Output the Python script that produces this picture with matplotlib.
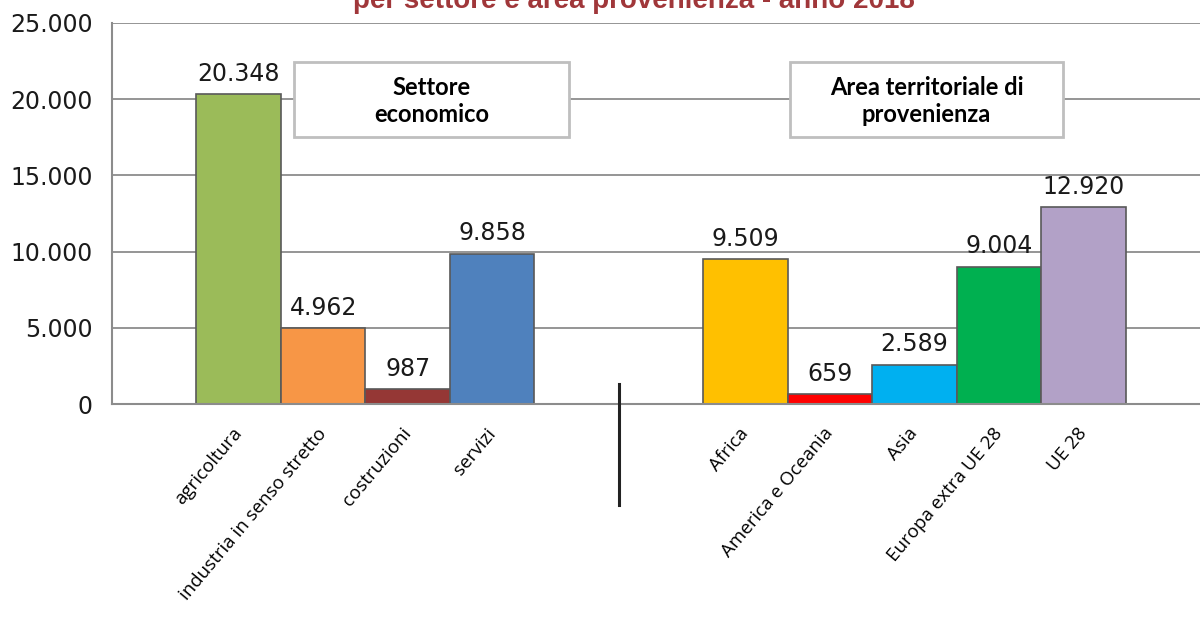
import matplotlib.pyplot as plt
from matplotlib.patches import Rectangle

# data
settori = ["agricoltura", "industria in senso stretto", "costruzioni", "servizi"]
settori_val = [20348, 4962, 987, 9858]
settori_col = ["#9BBB59", "#F79646", "#953735", "#4F81BD"]

aree = ["Africa", "America e Oceania", "Asia", "Europa extra UE 28", "UE 28"]
aree_val = [9509, 659, 2589, 9004, 12920]
aree_col = ["#FFC000", "#FF0000", "#00B0F0", "#00B050", "#B2A1C7"]

yticks = [0, 5000, 10000, 15000, 20000, 25000]
ytick_labels = ["0", "5.000", "10.000", "15.000", "20.000", "25.000"]

# slot positions (empty slots between the two groups)
x_settori = [1, 2, 3, 4]
x_aree = [7, 8, 9, 10, 11]

fig = plt.figure(figsize=(12, 6.21), dpi=100)
ax = fig.add_axes([112 / 1200, 1 - 404 / 621, 1098 / 1200, 381 / 621])

ax.set_axisbelow(True)
for y in yticks[1:]:
    ax.axhline(y, color="#8c8c8c", lw=1.3, zorder=0)

ax.bar(x_settori, settori_val, width=1.0, color=settori_col, edgecolor="#595959", lw=1.2, zorder=2)
ax.bar(x_aree, aree_val, width=1.0, color=aree_col, edgecolor="#595959", lw=1.2, zorder=2)

def fmt(v):
    return f"{v:,}".replace(",", ".")

for x, v in zip(x_settori + x_aree, settori_val + aree_val):
    ax.annotate(fmt(v), (x, v), xytext=(0, 6), textcoords="offset points",
                ha="center", va="bottom", fontsize=17, family="DejaVu Sans", color="#1a1a1a")

ax.set_xlim(-0.5, 12.5)
ax.set_ylim(0, 25000)
ax.set_yticks(yticks)
ax.set_yticklabels(ytick_labels, fontsize=17, family="DejaVu Sans", color="#1a1a1a")
ax.tick_params(axis="y", length=0, pad=14)
ax.tick_params(axis="x", length=0, pad=19)
ax.set_xticks(x_settori + x_aree)
ax.set_xticklabels(settori + aree, rotation=50, ha="right", va="center",
                   rotation_mode="anchor", fontsize=13.5, family="Open Sans")

for s in ["top", "right"]:
    ax.spines[s].set_visible(False)
ax.spines["left"].set_color("#8c8c8c")
ax.spines["left"].set_linewidth(1.5)
ax.spines["bottom"].set_color("#8c8c8c")
ax.spines["bottom"].set_linewidth(1.5)

# separator line
ax.plot([5.5, 5.5], [1300, -6600], color="#222222", lw=2.2, clip_on=False, zorder=3)

# group boxes
for (x0, x1, label) in [(294, 569, "Settore\neconomico"), (790, 1063, "Area territoriale di\nprovenienza")]:
    fig.patches.append(Rectangle((x0 / 1200, 1 - 137 / 621), (x1 - x0) / 1200, 75 / 621,
                                 transform=fig.transFigure, facecolor="white",
                                 edgecolor="#bfbfbf", lw=2, zorder=5))
    fig.text((x0 + x1) / 2400, 1 - 101 / 621, label, ha="center", va="center",
             fontsize=17, fontweight="bold", family="Lato", linespacing=1.25, zorder=6)

# title (only lower part visible, as in the source)
fig.text(634 / 1200, 1 - 8 / 621, "per settore e area provenienza - anno 2018",
         ha="center", va="baseline", fontsize=20, fontweight="bold",
         family="Liberation Sans", color="#A0373A")

fig.savefig("out.png", dpi=100)
